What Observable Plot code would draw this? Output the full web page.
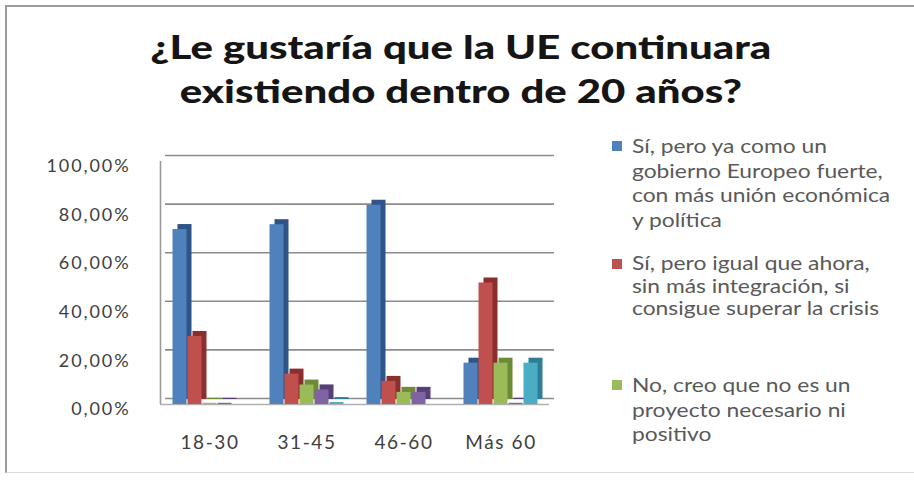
<!DOCTYPE html>
<html><head><meta charset="utf-8">
<script src="https://cdn.jsdelivr.net/npm/d3@7"></script>
<script src="https://cdn.jsdelivr.net/npm/@observablehq/plot@0.6"></script>
<style>
body{margin:0;background:#fff;}
#frame{position:relative;width:914px;height:482px;overflow:hidden;font-family:Lato,sans-serif;background:#fff;}
#border{position:absolute;left:5px;top:5px;width:940px;height:465px;border-left:2px solid #9c9c9c;border-top:2px solid #9c9c9c;border-bottom:1px solid #dcdcdc;}
#title{position:absolute;left:6px;top:24px;width:914px;text-align:center;font-weight:900;font-size:33px;line-height:44px;color:#151515;transform:scaleX(1.27);transform-origin:465px 0;}
.layer{position:absolute;left:0;top:140px;}
.leg{position:absolute;left:612px;font-size:19px;line-height:24.5px;color:#595959;white-space:pre;}
.leg .sw{position:absolute;left:0;top:7px;width:10px;height:10px;}
.leg .tx{position:absolute;left:20px;top:0;transform:scaleX(1.2);transform-origin:0 0;}
</style>
</head><body>
<div id="frame">
  <div id="border"></div>
  <div id="title">¿Le gustaría que la UE continuara<br>existiendo dentro de 20 años?</div>
  <div id="bg" class="layer"></div>
  <div id="bars" class="layer"></div>
  <div id="legend"></div>
</div>
<script>
const ages = ["18-30", "31-45", "46-60", "Más 60"];
const seriesNames = [
  "Sí, pero ya como un gobierno Europeo fuerte, con más unión económica y política",
  "Sí, pero igual que ahora, sin más integración, si consigue superar la crisis",
  "No, creo que no es un proyecto necesario ni positivo",
  "Serie 4",
  "Serie 5"
];
const legendLines = [
  ["Sí, pero ya como un", "gobierno Europeo fuerte,", "con más unión económica", "y política"],
  ["Sí, pero igual que ahora,", "sin más integración, si", "consigue superar la crisis"],
  ["No, creo que no es un", "proyecto necesario ni", "positivo"]
];
const valuesS1 = [72, 74, 82, 17];
const valuesS2 = [28, 12.5, 9.5, 50];
const valuesS3 = [0.5, 8, 5, 17];
const valuesS4 = [0.5, 6, 5, 0.5];
const valuesS5 = [0, 0.8, 0, 17];
const yTicks = [0, 20, 40, 60, 80, 100];

const colors = ["#4F81BD", "#C0504D", "#9BBB59", "#8064A2", "#4BACC6"];
const darks  = ["#2f5487", "#8a2f2c", "#6d8a35", "#573f78", "#2e7f96"];

const allValues = [valuesS1, valuesS2, valuesS3, valuesS4, valuesS5];
const data = [];
ages.forEach((a, i) => allValues.forEach((vals, s) => data.push({age: a, series: seriesNames[s], value: vals[i]})));

const W = 570, H = 330;
const common = {width: W, height: H, marginLeft: 160, marginRight: 21, marginTop: 21, marginBottom: 66,
  style: {fontFamily: "Lato, sans-serif", background: "transparent", overflow: "visible"}};

const bg = Plot.plot({
  ...common,
  x: {domain: [0, 1], axis: null},
  y: {domain: [0, 100], ticks: yTicks, tickFormat: d => d.toFixed(2).replace(".", ",") + "%", tickSize: 0, tickPadding: 30, label: null},
  marks: [
    Plot.ruleY(yTicks, {dx: 5, dy: -6, stroke: "#8c8c8c", strokeWidth: 1.6}),
    Plot.ruleX([0], {y1: 0, y2: 100, stroke: "#9a9a9a", strokeWidth: 1.6}),
    Plot.ruleY([0], {stroke: "#b0b0b0", strokeWidth: 1.4})
  ]
});
bg.querySelectorAll("text").forEach(t => {
  t.setAttribute("font-size", "18"); t.style.letterSpacing = "1.9px"; t.setAttribute("fill", "#404040");
});
bg.querySelectorAll("g[aria-label='y-axis tick label'], g[aria-label='y-axis']").forEach(g => {
  g.setAttribute("transform", ((g.getAttribute("transform") || "") + " translate(0,5)").trim());
});
bg.style.fontSize = "18px";
document.getElementById("bg").appendChild(bg);

const bars = Plot.plot({
  ...common,
  fx: {domain: ages, paddingInner: 0.23, paddingOuter: 0.115, tickSize: 0, tickPadding: 31, label: null},
  x: {domain: seriesNames, padding: 0, axis: null},
  y: {domain: [0, 100], axis: null},
  color: {domain: seriesNames, range: colors},
  marks: [
    Plot.barY(data, {fx: "age", x: "series", y: "value", fill: d => darks[seriesNames.indexOf(d.series)], dx: 5, dy: -5, insetLeft: 0.5, insetRight: 0.5}),
    Plot.barY(data, {fx: "age", x: "series", y: "value", fill: "series", insetLeft: 0.5, insetRight: 0.5})
  ]
});
bars.querySelectorAll("text").forEach(t => {
  t.setAttribute("font-size", "19"); t.style.letterSpacing = "1.6px"; t.setAttribute("fill", "#404040");
});
bars.style.fontSize = "19px";
document.getElementById("bars").appendChild(bars);

const legTops = [134, 252, 373];
const legLH = [24.5, 22.5, 24.5];
const leg = document.getElementById("legend");
legendLines.forEach((lines, i) => {
  const d = document.createElement("div");
  d.className = "leg";
  d.style.top = legTops[i] + "px";
  d.style.lineHeight = legLH[i] + "px";
  const sw = document.createElement("div");
  sw.className = "sw"; sw.style.background = colors[i];
  const tx = document.createElement("div");
  tx.className = "tx"; tx.textContent = lines.join("\n");
  d.appendChild(sw); d.appendChild(tx);
  leg.appendChild(d);
});
</script>
</body></html>
